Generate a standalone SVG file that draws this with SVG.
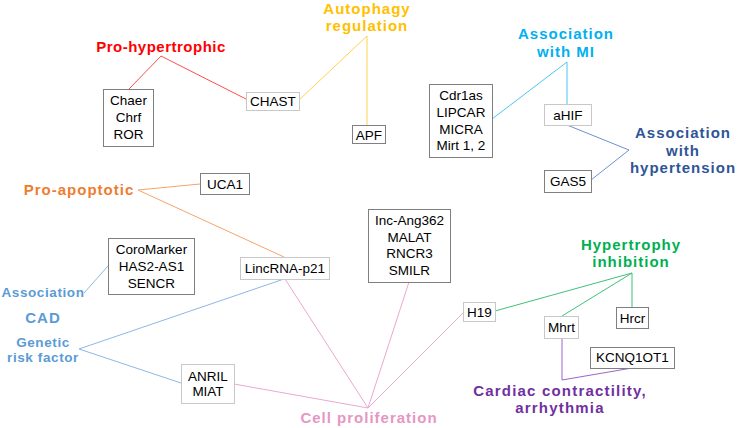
<svg xmlns="http://www.w3.org/2000/svg" width="739" height="428" viewBox="0 0 739 428">
<style>
.bx{fill:#fff;stroke:#7f7f7f;stroke-width:1}
.bl{fill:#fff;stroke:#c8c8c8;stroke-width:1}
.t{font-family:"Liberation Sans",Arial,sans-serif;font-size:13.5px;fill:#000;text-anchor:middle}
.lb{font-family:"Liberation Sans",Arial,sans-serif;font-weight:bold;font-size:15px;letter-spacing:1px;text-anchor:middle}
.c{fill:none;stroke-width:1}
</style>
<rect width="739" height="428" fill="#fff"/>
<g id="connectors">
<polyline class="c" stroke="#ff4d4d" points="129,89 161,56 246,99"/>
<polyline class="c" stroke="#ffd24d" points="299,100 367,36 367,125"/>
<polyline class="c" stroke="#4dc4f0" points="492,119 567,62 567,104"/>
<polyline class="c" stroke="#6f8fd6" points="567,125 629,150 591,180"/>
<polyline class="c" stroke="#f4a46a" points="200,184 138,190 284,257"/>
<polyline class="c" stroke="#8cb8e4" points="84,293 108,266"/>
<polyline class="c" stroke="#8cb8e4" points="284,279 79,349 181,383"/>
<polyline class="c" stroke="#eba8d0" points="234,384 368,408 285,279"/>
<polyline class="c" stroke="#eba8d0" points="409,282 368,408 463,313"/>
<polyline class="c" stroke="#40c078" points="495,311 632,273 562,316"/>
<polyline class="c" stroke="#40c078" points="632,273 632,307"/>
<polyline class="c" stroke="#9966cc" points="562,338 562,380 632,368"/>
</g>
<g id="label-pro-hypertrophic"><text class="lb" x="161" y="52" fill="#ff0000" style="letter-spacing:0.5px">Pro-hypertrophic</text></g>
<g id="label-autophagy"><text class="lb" x="367" y="14" fill="#ffc000">Autophagy</text><text class="lb" x="367" y="31" fill="#ffc000">regulation</text></g>
<g id="label-mi"><text class="lb" x="566" y="39" fill="#00b0f0">Association</text><text class="lb" x="566" y="57" fill="#00b0f0">with MI</text></g>
<g id="label-hypertension"><text class="lb" x="683" y="137.5" fill="#2f5597">Association</text><text class="lb" x="683" y="155.5" fill="#2f5597">with</text><text class="lb" x="683" y="173" fill="#2f5597">hypertension</text></g>
<g id="label-pro-apoptotic"><text class="lb" x="79" y="195" fill="#ed7d31">Pro-apoptotic</text></g>
<g id="label-cad">
<text class="lb" x="43" y="297" fill="#5b9bd5" style="font-size:13.5px;letter-spacing:0.6px">Association</text>
<text class="lb" x="43" y="322.5" fill="#5b9bd5">CAD</text>
<text class="lb" x="43" y="346.5" fill="#5b9bd5" style="font-size:13.5px;letter-spacing:0.6px">Genetic</text>
<text class="lb" x="43" y="361.5" fill="#5b9bd5" style="font-size:13.5px;letter-spacing:0.6px">risk factor</text>
</g>
<g id="label-cell-proliferation"><text class="lb" x="369" y="422.5" fill="#e597c4">Cell proliferation</text></g>
<g id="label-hypertrophy-inhibition"><text class="lb" x="631" y="249.5" fill="#00b050">Hypertrophy</text><text class="lb" x="631" y="267" fill="#00b050">inhibition</text></g>
<g id="label-cardiac"><text class="lb" x="560" y="395.5" fill="#7030a0" style="letter-spacing:1.2px">Cardiac contractility,</text><text class="lb" x="560" y="413" fill="#7030a0" style="letter-spacing:1.2px">arrhythmia</text></g>
<g id="node-chaer"><rect class="bx" x="103.5" y="89.5" width="50" height="57"/><text class="t" x="128.5" y="105">Chaer</text><text class="t" x="128.5" y="122">Chrf</text><text class="t" x="128.5" y="139">ROR</text></g>
<g id="node-chast"><rect class="bl" x="246.5" y="92.5" width="53" height="18"/><text class="t" x="273" y="105.5">CHAST</text></g>
<g id="node-apf"><rect class="bx" x="352.5" y="125.5" width="33" height="18"/><text class="t" x="369" y="140">APF</text></g>
<g id="node-uca1"><rect class="bx" x="200.5" y="173.5" width="49" height="21"/><text class="t" x="225" y="188.5">UCA1</text></g>
<g id="node-cdr1as"><rect class="bx" x="429.5" y="84.5" width="63" height="73"/><text class="t" x="461" y="100">Cdr1as</text><text class="t" x="461" y="117">LIPCAR</text><text class="t" x="461" y="133.5">MICRA</text><text class="t" x="461" y="150">Mirt 1, 2</text></g>
<g id="node-ahif"><rect class="bl" x="544.5" y="104.5" width="47" height="21"/><text class="t" x="568" y="120">aHIF</text></g>
<g id="node-gas5"><rect class="bx" x="544.5" y="170.5" width="47" height="22"/><text class="t" x="568" y="186">GAS5</text></g>
<g id="node-coromarker"><rect class="bx" x="108.5" y="238.5" width="86" height="56"/><text class="t" x="151.5" y="254">CoroMarker</text><text class="t" x="151.5" y="271">HAS2-AS1</text><text class="t" x="151.5" y="288">SENCR</text></g>
<g id="node-lincrna"><rect class="bl" x="240.5" y="257.5" width="89" height="22"/><text class="t" x="285" y="273">LincRNA-p21</text></g>
<g id="node-anril"><rect class="bl" x="181.5" y="364.5" width="53" height="39"/><text class="t" x="208" y="381">ANRIL</text><text class="t" x="208" y="396">MIAT</text></g>
<g id="node-lnc-ang"><rect class="bx" x="368.5" y="209.5" width="82" height="73"/><text class="t" x="409.5" y="225">Inc-Ang362</text><text class="t" x="409.5" y="241.5">MALAT</text><text class="t" x="409.5" y="258">RNCR3</text><text class="t" x="409.5" y="274.5">SMILR</text></g>
<g id="node-h19"><rect class="bl" x="463.5" y="302.5" width="32" height="19"/><text class="t" x="479.5" y="317">H19</text></g>
<g id="node-mhrt"><rect class="bl" x="544.5" y="316.5" width="34" height="22"/><text class="t" x="561.5" y="332">Mhrt</text></g>
<g id="node-hrcr"><rect class="bx" x="616.5" y="307.5" width="32" height="21"/><text class="t" x="632.5" y="322.5">Hrcr</text></g>
<g id="node-kcnq1ot1"><rect class="bx" x="590.5" y="347.5" width="84" height="21"/><text class="t" x="632.5" y="362">KCNQ1OT1</text></g>
</svg>
